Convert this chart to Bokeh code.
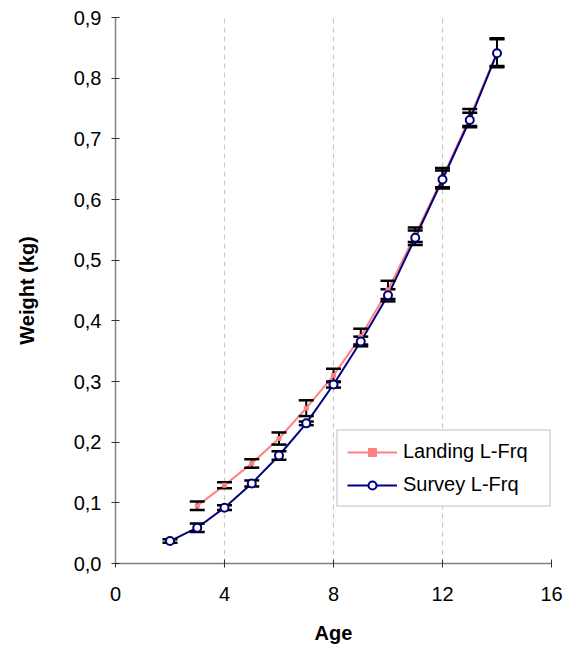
from bokeh.plotting import figure
from bokeh.models import (ColumnDataSource, Range1d, FixedTicker, CustomJSTickFormatter,
                          Legend, LegendItem)
from bokeh.embed import file_html
from bokeh.resources import INLINE

# ---- data ----
ages_survey = [2, 3, 4, 5, 6, 7, 8, 9, 10, 11, 12, 13, 14]
survey_w = [0.037, 0.059, 0.092, 0.132, 0.178, 0.231, 0.295, 0.366, 0.442, 0.537, 0.633, 0.731, 0.841]
survey_err = [0.003, 0.007, 0.004, 0.005, 0.007, 0.003, 0.005, 0.008, 0.010, 0.012, 0.015, 0.012, 0.023]

ages_landing = [3, 4, 5, 6, 7, 8, 9, 10, 11, 12, 13, 14]
landing_w = [0.095, 0.129, 0.165, 0.206, 0.256, 0.310, 0.374, 0.451, 0.542, 0.636, 0.735, 0.843]
landing_err = [0.007, 0.005, 0.007, 0.010, 0.013, 0.011, 0.013, 0.015, 0.012, 0.016, 0.014, 0.023]

x_ticks = [0, 4, 8, 12, 16]
y_ticks = [0.0, 0.1, 0.2, 0.3, 0.4, 0.5, 0.6, 0.7, 0.8, 0.9]

FONT = "Liberation Sans"
PINK = "#ff8080"
NAVY = "#000080"

def src(ages, w, err):
    return ColumnDataSource(dict(
        x=ages, y=w,
        lo=[a - b for a, b in zip(w, err)],
        hi=[a + b for a, b in zip(w, err)],
    ))

s_src = src(ages_survey, survey_w, survey_err)
l_src = src(ages_landing, landing_w, landing_err)

p = figure(width=573, height=654, output_backend="svg", toolbar_location=None,
           x_range=Range1d(0, 16), y_range=Range1d(0, 0.9),
           min_border_left=115, min_border_right=22, min_border_top=17, min_border_bottom=91)
p.outline_line_color = None
p.background_fill_color = "white"
p.border_fill_color = "white"

# axes
p.xaxis.ticker = FixedTicker(ticks=x_ticks)
p.yaxis.ticker = FixedTicker(ticks=y_ticks)
p.yaxis.formatter = CustomJSTickFormatter(code="return tick.toFixed(1).replace('.', ',');")
for ax in (p.xaxis[0], p.yaxis[0]):
    ax.axis_line_color = "#808080"
    ax.axis_line_width = 1.5
    ax.major_tick_line_color = "#303030"
    ax.major_tick_in = 4
    ax.major_tick_out = 4
    ax.minor_tick_line_color = None
    ax.major_label_text_font = FONT
    ax.major_label_text_font_size = "20px"
    ax.major_label_text_color = "black"
    ax.axis_label_text_font = FONT
    ax.axis_label_text_font_size = "20px"
    ax.axis_label_text_font_style = "bold"
    ax.axis_label_text_color = "black"
p.xaxis.axis_label = "Age"
p.yaxis.axis_label = "Weight (kg)"
p.xaxis.major_label_standoff = 19
p.xaxis.axis_label_standoff = 18
p.yaxis.major_label_standoff = 10
p.yaxis.axis_label_standoff = 33

# grid
p.ygrid.grid_line_color = None
p.xgrid.ticker = FixedTicker(ticks=[4, 8, 12, 16])
p.xgrid.grid_line_color = "#c8c8c8"
p.xgrid.grid_line_dash = "5 4"
p.xgrid.grid_line_width = 1.2

# lines
l_line = p.line("x", "y", source=l_src, line_color=PINK, line_width=2)
s_line = p.line("x", "y", source=s_src, line_color=NAVY, line_width=2)

# error bars
for sr in (l_src, s_src):
    p.segment(x0="x", y0="lo", x1="x", y1="hi", source=sr, line_color="black", line_width=2)
    p.scatter("x", "lo", source=sr, marker="dash", size=15, line_color="black", line_width=2.5)
    p.scatter("x", "hi", source=sr, marker="dash", size=15, line_color="black", line_width=2.5)

# markers
l_mark = p.scatter("x", "y", source=l_src, marker="square", size=4,
                   fill_color=PINK, line_color=PINK)
s_mark = p.scatter("x", "y", source=s_src, marker="circle", size=8,
                   fill_color="white", line_color=NAVY, line_width=2)

legend = Legend(items=[
    LegendItem(label="Landing L-Frq", renderers=[l_line, l_mark]),
    LegendItem(label="Survey L-Frq", renderers=[s_line, s_mark]),
], location=(221, 56))
legend.label_text_font = FONT
legend.label_text_font_size = "20px"
legend.label_text_color = "black"
legend.glyph_width = 50
legend.glyph_height = 20
legend.label_standoff = 6
legend.label_width = 137
legend.padding = 9
legend.spacing = 10
legend.border_line_color = "#c0c0c0"
legend.border_line_width = 2
legend.background_fill_color = "white"
legend.background_fill_alpha = 1.0
legend.margin = 0
p.add_layout(legend)

open("out.html", "w").write(file_html(p, INLINE))
